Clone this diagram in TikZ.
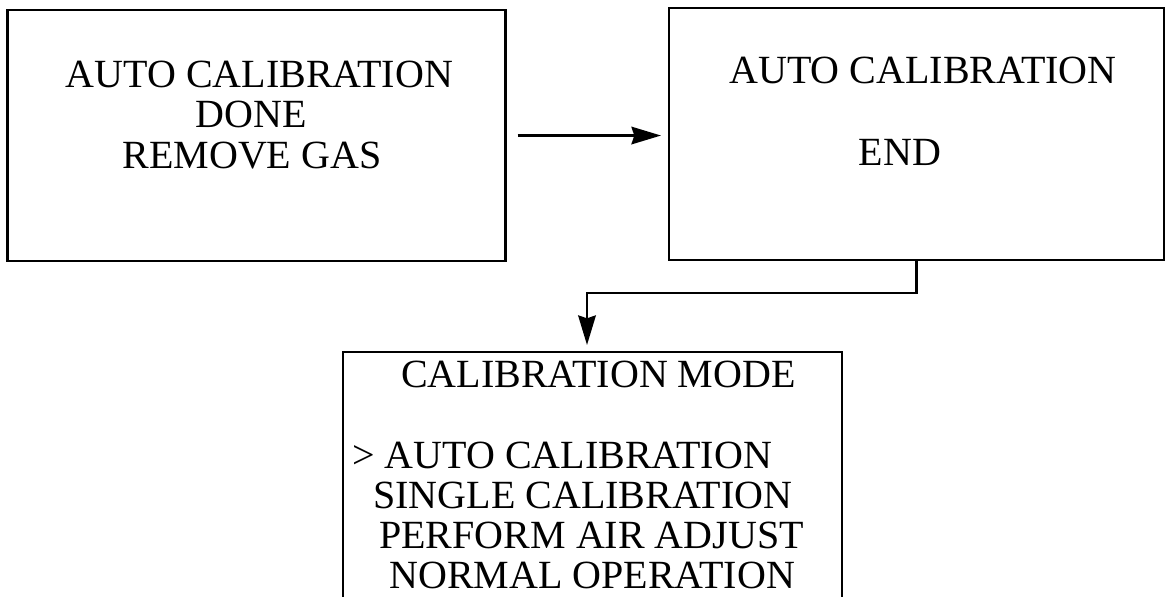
\documentclass[tikz,border=0pt]{standalone}
\usepackage{fontspec}
\setmainfont{Liberation Serif}
\usetikzlibrary{arrows.meta,positioning}

\begin{document}
\begin{tikzpicture}[
    x=0.025cm, y=-0.025cm,
    font=\fontsize{28.45}{28.45}\selectfont,
    screen/.style={draw, line width=1.9pt, inner sep=0pt, outer sep=0pt, anchor=north west},
    msg/.style={inner sep=0pt, anchor=base},
    item/.style={inner sep=0pt, anchor=base west},
    arrow/.style={-{Stealth[length=21pt, width=12.5pt, inset=2pt]}, line width=1.7pt}
]
    \useasboundingbox (0,0) rectangle (1168,597);
    \clip (0,0) rectangle (1168,597);

    % screens
    \node[screen, minimum width=12.45cm, minimum height=6.275cm] (done) at (7.5,10) {};
    \node[screen, minimum width=12.375cm, minimum height=6.3cm] (end) at (669,8) {};
    \node[screen, minimum width=12.475cm, minimum height=7.5cm] (mode) at (343,352) {};

    % screen texts
    \node[msg] (done1) at (259.5,88) {AUTO CALIBRATION};
    \node[msg] (done2) at (251.5,128) {DONE};
    \node[msg] (done3) at (252,168) {REMOVE GAS};
    \node[msg] (end1) at (923,84) {AUTO CALIBRATION};
    \node[msg] (end2) at (900,166) {END};
    \node[item] (mode0) at (401,387) {CALIBRATION MODE};
    \node[item] (mode1) at (352,468) {> AUTO CALIBRATION};
    \node[item] (mode2) at (373,508) {SINGLE CALIBRATION};
    \node[item] (mode3) at (379,548) {PERFORM AIR ADJUST};
    \node[item] (mode4) at (389,588) {NORMAL OPERATION};

    \coordinate (turn) at (587,293);

    \draw[arrow, shorten <=0.3cm, shorten >=0.2cm] (done.east) -- (done.east -| end.west);
    \draw[arrow, shorten >=0.175cm] (end.south) |- (turn) -- (turn |- mode.north);

\end{tikzpicture}
\end{document}
